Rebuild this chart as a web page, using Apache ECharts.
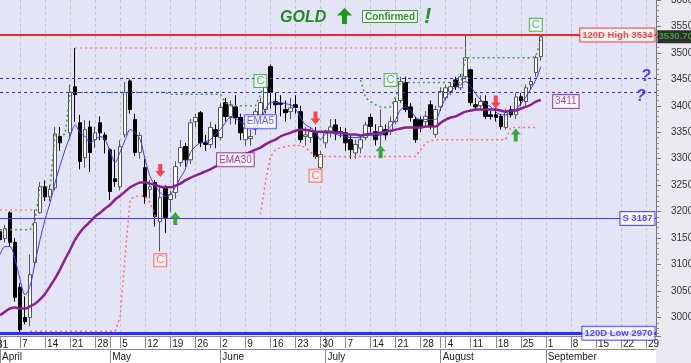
<!DOCTYPE html>
<html><head><meta charset="utf-8">
<script src="https://cdn.jsdelivr.net/npm/echarts@6/dist/echarts.min.js"></script>
<style>html,body{margin:0;padding:0;background:#fff}#c{width:691px;height:363px}</style>
</head><body><div id="c"></div>
<script>
// ---------- DATA ----------
const categories = [
 '04-01','04-02','04-03','04-04','04-07','04-08','04-09','04-10','04-11','04-14','04-15','04-16','04-17','04-18','04-21','04-22','04-23','04-24','04-25','04-28','04-29','04-30',
 '05-01','05-02','05-05','05-06','05-07','05-08','05-09','05-12','05-13','05-14','05-15','05-16','05-19','05-20','05-21','05-22','05-23','05-26','05-27','05-28','05-29','05-30',
 '06-02','06-03','06-04','06-05','06-06','06-09','06-10','06-11','06-12','06-13','06-16','06-17','06-18','06-19','06-20','06-23','06-24','06-25','06-26','06-27','06-30',
 '07-01','07-02','07-03','07-04','07-07','07-08','07-09','07-10','07-11','07-14','07-15','07-16','07-17','07-18','07-21','07-22','07-23','07-24','07-25','07-28','07-29','07-30','07-31',
 '08-01','08-04','08-05','08-06','08-07','08-08','08-11','08-12','08-13','08-14','08-15','08-18','08-19','08-20','08-21','08-22','08-25','08-26','08-27','08-28','08-29',
 '09-01','09-02','09-03','09-04','09-05','09-08','09-09','09-10','09-11','09-12','09-15','09-16','09-17','09-18','09-19','09-22','09-23','09-24','09-25','09-26','09-29','09-30',
 '10-01'
];
const monthNames = {'04':'April','05':'May','06':'June','07':'July','08':'August','09':'September','10':'October'};

const opens = [
 3162,3149,3198,3142,3057,3000,3000,3104,3198,3247,3228,3245,3342,null,3349,3436,3368,3302,3360,3336,3368,3345,
 3317,3262,3247,3345,3447,3374,3312,3283,3242,3255,3181,3244,3223,3236,3293,3323,3298,3370,3387,3330,3327,3355,
 3340,3406,3380,3398,3378,3336,3338,3361,3380,3393,3474,3408,3405,3393,3389,3402,3389,3342,3340,3351,3283,
 3330,3349,3364,3351,3349,3336,3311,3320,3340,3378,3351,3345,3355,3352,3370,3410,3444,3398,3374,3374,3370,3402,3346,
 3398,3415,3427,3449,3434,3455,3468,3402,3400,3408,3383,3383,3380,3359,3393,3383,3417,3408,3440,3463,3493
];
const closes = [
 3147,3168,3142,3038,2977,2992,3081,3179,3247,3228,3242,3347,3330,null,3425,3421,3295,3355,3312,3349,3349,3336,
 3238,3257,3323,3425,3393,3312,3344,3228,3247,3191,3227,3189,3232,3285,3321,3298,3368,3378,3330,3327,3359,3342,
 3397,3380,3402,3378,3349,3359,3342,3389,3406,3436,3425,3402,3403,3387,3396,3397,3336,3345,3352,3304,3308,
 3349,3360,3349,3349,3330,3317,3327,3336,3364,3361,3336,3361,3345,3370,3408,3446,3393,3378,3336,3361,3380,3361,3393,
 3427,3434,3436,3436,3455,3491,3406,3398,3408,3380,3380,3378,3361,3387,3383,3417,3410,3434,3446,3491,3530.7
];
const lows = [
 3140,3142,3135,3030,2970,2987,2983,3095,3196,3220,3220,3240,3315,null,3340,3370,3280,3283,3275,3320,3335,3310,
 3222,3247,3240,3340,3385,3305,3300,3215,3225,3172,3125,3160,3200,3225,3285,3285,3290,3360,3322,3315,3320,3320,
 3335,3370,3365,3365,3335,3325,3325,3345,3370,3385,3395,3385,3380,3370,3375,3385,3330,3325,3330,3300,3258,
 3320,3340,3335,3340,3315,3300,3300,3310,3335,3350,3325,3323,3335,3345,3365,3405,3388,3370,3330,3350,3360,3355,3340,
 3390,3410,3420,3430,3430,3450,3400,3390,3395,3375,3374,3370,3355,3355,3378,3375,3400,3400,3430,3455,3485
];
const highs = [
 3170,3175,3201,3150,3065,3040,3119,3204,3256,3259,3250,3360,3360,null,3440,3509,3383,3373,3372,3360,3380,3350,
 3320,3317,3335,3445,3450,3385,3350,3300,3260,3260,3247,3250,3240,3295,3335,3330,3375,3385,3390,3345,3370,3365,
 3405,3415,3410,3420,3385,3370,3355,3395,3415,3460,3478,3425,3420,3410,3415,3420,3400,3360,3360,3360,3315,
 3355,3375,3375,3360,3358,3345,3336,3345,3370,3385,3365,3393,3365,3380,3415,3455,3455,3405,3380,3380,3390,3410,3400,
 3435,3440,3445,3455,3460,3534,3470,3415,3420,3420,3390,3395,3385,3395,3400,3425,3425,3440,3455,3495,3532
];
const ema5 = [
 3119,3134,3134,3110,3072,3043,3059,3104,3147,3185,3217,3255,3287,3317,3342,3364,3349,3342,3330,3336,3342,3336,
 3313,3293,3313,3336,3355,3349,3336,3298,3266,3249,3236,3229,3232,3246,3264,3280,3312,3323,3330,3332,3336,3346,
 3355,3368,3378,3376,3370,3364,3359,3355,3370,3393,3406,3406,3406,3404,3402,3395,3378,3364,3359,3351,3336,
 3347,3349,3346,3344,3342,3340,3340,3340,3344,3344,3342,3346,3349,3361,3374,3393,3397,3391,3378,3374,3374,3374,3374,
 3395,3415,3427,3436,3440,3446,3436,3423,3411,3404,3398,3389,3383,3383,3387,3393,3404,3417,3432,3449,3474
];
const ema30 = [
 3004,3011,3017,3019,3017,3017,3021,3026,3034,3045,3059,3074,3091,3110,3128,3147,3161,3172,3181,3191,3198,3206,
 3213,3223,3230,3238,3246,3251,3255,3255,3253,3251,3247,3246,3246,3249,3253,3259,3264,3268,3272,3276,3280,3285,
 3289,3293,3296,3300,3304,3308,3313,3317,3321,3327,3332,3336,3342,3346,3349,3353,3355,3355,3353,3351,3351,
 3351,3351,3349,3349,3347,3346,3346,3344,3346,3347,3347,3349,3351,3353,3355,3357,3359,3359,3359,3359,3361,3361,3361,
 3368,3374,3378,3380,3385,3389,3391,3393,3393,3393,3393,3393,3391,3389,3391,3391,3395,3398,3402,3408,3411
];
// trailing stop lines (start index, values)
const redStopAStart = 6;
const redStopA = [2974,2974,2974,2974,2974,2974,2974,2974,2974,2974,2974,2974,2974,2974,2974,2974,2974,2974,3002,3119,3223,3229,3230,3229,3217,3191];
const redStopBStart = 52;
const redStopB = [3195,3255,3304,3317,3321,3323,3325,3325,3325,3321,3313,3304,
 3304,3304,3304,3304,3304,3304,3304,3304,3304,3304,3304,3304,3304,3304,3304,3304,3304,3304,3304,3304,
 3317,3330,3334,
 3336,3336,3336,3336,3336,3336,3336,3336,3336,3336,3336,3336,3336,3336,3336,
 3359,3359,3359,3359,3359,3359];
const greenStopAStart = 0;
const greenStopA = [3166,3166,3166,3166,3166,3166,3166,3185,3247,3247,3247,3346,3346,3346,3425,
 3425,3425,3425,3425,3425,3425,3425,3425,3425,3425,3425,3425,3425,3425,3425,3425,3425,3425,3425,
 3422,3422,3422,3422,3422,3422,3422,3422,3422,3422,3422,
 3406,3400,3400,3400,3400,3400,3400,3420,3453];
const greenStopBStart = 72;
const greenStopB = [3449,3415,3408,3402,3398,3397,3398,3417,
 3444,3444,3444,3444,3444,3444,3444,3444,3444,3444,3444,3444,3444,
 3491,3491,3491,3491,3491,3491,3491,3491,3491,3491,3491,3491,3491,3491,
 3493,3525];
// horizontal levels
const high120 = 3534, low120 = 2970, support = 3187, dashLevels = [3453, 3425];
const resistLevel = 3509, resistFrom = 15, resistTo = 93;
const earlyLevel = 3204, earlyFrom = 0, earlyTo = 7;
const lastPrice = 3530.70;
// annotations [index, price, text]
const greenC = [[52,3447,'C'],[78,3449,'C'],[107,3553,'C']];
const redC = [[32,3108,'C'],[63,3268,'C']];
const emaTags = [[52,3370,'EMA5','#3a3aff'],[47,3298,'EMA30','#8e1f8e'],[113,3408,'3411','#8e1f8e']];
const qMarks = [[129,3455],[128,3417]];
const downArrows = [[32,3278],[63,3377],[99,3407]];
const upArrows = [[35,3187],[76,3313],[103,3345]];

// ---------- BUILD ----------
const N = categories.length;
const place = (start, vals) => { const a = new Array(N).fill(null); vals.forEach((v,k)=>{a[start+k]=v;}); return a; };
const candle = opens.map((o,i)=> o==null ? '-' : [o, closes[i], lows[i], highs[i]]);
const isMonday = i => { const [m,d] = categories[i].split('-').map(Number); return new Date(2025, m-1, d).getDay() === 1; };
const isMonthStart = i => i < N-1 && (i === 0 || categories[i].slice(0,2) !== categories[i-1].slice(0,2));
const sans = '"Liberation Sans",Arial,sans-serif';

const boxLabel = (text, color, opts) => Object.assign({
  show:true, formatter:text, color:color, backgroundColor:'#fff', borderColor:color, borderWidth:1,
  padding:[2,2,1,2], fontSize:9.5, fontFamily:sans, position:'inside', lineHeight:10
}, opts||{});

const tagData = [];
greenC.forEach(([i,v,t])=>tagData.push({value:[i,v], label:boxLabel(t,'#2ea82e',{fontSize:11,lineHeight:11,padding:[1,2,0,2]})}));
redC.forEach(([i,v,t])=>tagData.push({value:[i,v], label:boxLabel(t,'#ff5050',{fontSize:11,lineHeight:11,backgroundColor:'#fff4f4',padding:[1,2,0,2]})}));
emaTags.forEach(([i,v,t,c])=>tagData.push({value:[i,v], label:boxLabel(t,c,{fontSize:10})}));
qMarks.forEach(([i,v])=>tagData.push({value:[i,v], label:{show:true, formatter:'?', position:'inside', color:'#2020e0', fontSize:16, fontWeight:'bold', fontStyle:'italic', fontFamily:sans}}));
tagData.push({value:[N-1,high120], label:boxLabel('120D High '+high120,'#ee2222',{position:'left',distance:1,fontWeight:'bold'})});
tagData.push({value:[N-1,support], label:boxLabel('S '+support,'#2a2aff',{position:'left',distance:1,fontWeight:'bold'})});
tagData.push({value:[N-1,low120], label:boxLabel('120D Low '+low120,'#2a2aff',{position:'left',distance:1,fontWeight:'bold'})});
tagData.push({value:[N-1,lastPrice], label:{show:true, formatter:lastPrice.toFixed(2), position:'right', distance:1,
  color:'#3ec03e', backgroundColor:'#000', padding:[2,1,1,1], fontSize:9.5, fontWeight:'bold', fontFamily:sans, lineHeight:10}});

const downPath = 'path://M3,0 L7,0 L7,7 L10,7 L5,13 L0,7 L3,7 Z';
const upPath = 'path://M5,0 L10,6 L7,6 L7,13 L3,13 L3,6 L0,6 Z';

const chart = echarts.init(document.getElementById('c'));
chart.setOption({
  animation:false,
  backgroundColor:'#fff',
  grid:{left:0, right:35, top:0, bottom:27, show:true, backgroundColor:'#E4E4F7', borderWidth:0, containLabel:false, outerBoundsMode:'none'},
  graphic:[
    {type:'rect', shape:{x:656,y:0,width:35,height:363}, style:{fill:'#EAEAF0'}, z:-10, silent:true},
    {type:'text', x:-3, y:340, style:{text:'31', font:'10px '+sans, fill:'#222'}, z:10},
    {type:'text', x:280, y:10, style:{text:'GOLD', font:'italic bold 16px '+sans, fill:'#1f8a1f'}, z:10},
    {type:'polygon', shape:{points:[[344.5,8],[352,15.5],[347,15.5],[347,24],[342,24],[342,15.5],[337,15.5]]}, style:{fill:'#1a9a1a'}, z:10},
    {type:'rect', shape:{x:362.5,y:10.5,width:55,height:12}, style:{fill:'#fff', stroke:'#2ea82e', lineWidth:1}, z:10},
    {type:'text', x:390, y:17, style:{text:'Confirmed', font:'bold 10px '+sans, fill:'#2a9a2a', align:'center', verticalAlign:'middle'}, z:11},
    {type:'text', x:424, y:6, style:{text:'!', font:'italic bold 22px '+sans, fill:'#1a9a1a'}, z:10}
  ],
  xAxis:[
    {type:'category', data:categories, boundaryGap:false, position:'bottom',
     axisLine:{show:true, lineStyle:{color:'#8a8a8a'}},
     axisTick:{show:true, interval:(i)=>isMonday(i)||isMonthStart(i), length:12, lineStyle:{color:'#8a8a8a'}},
     axisLabel:{show:true, interval:(i)=>isMonday(i), formatter:(v)=>String(parseInt(v.slice(3),10)), align:'left',
       padding:[0,0,0,2], margin:3, fontSize:10, color:'#222', fontFamily:sans, hideOverlap:false},
     splitLine:{show:true, interval:(i)=>isMonday(i), lineStyle:{type:[3,3], color:'#c4c4cc', width:1}}},
    {type:'category', data:categories, boundaryGap:false, position:'bottom', offset:13,
     axisLine:{show:true, lineStyle:{color:'#8a8a8a'}},
     axisTick:{show:true, interval:(i)=>isMonthStart(i), length:14, lineStyle:{color:'#8a8a8a'}},
     axisLabel:{show:true, interval:(i)=>isMonthStart(i), formatter:(v)=>monthNames[v.slice(0,2)], align:'left',
       padding:[0,0,0,2], margin:3, fontSize:10, color:'#222', fontFamily:sans, hideOverlap:false},
     splitLine:{show:false}}
  ],
  yAxis:{type:'value', position:'right', min:2965, max:3600, splitNumber:13, minInterval:50, maxInterval:50,
    axisLine:{show:true, lineStyle:{color:'#777'}},
    axisTick:{show:true, length:5, lineStyle:{color:'#777'}},
    minorTick:{show:true, splitNumber:5, length:3, lineStyle:{color:'#888'}},
    axisLabel:{margin:15, fontSize:10, color:'#333', fontFamily:sans, showMinLabel:false,
      formatter:(v)=> (v%50===0 ? String(v) : '')},
    splitLine:{show:false}},
  series:[
    {type:'candlestick', name:'GOLD', data:candle, barWidth:4,
     itemStyle:{color:'#ffffff', color0:'#000000', borderColor:'#555', borderColor0:'#000', borderWidth:1},
     markLine:{silent:true, symbol:['none','none'], label:{show:false}, animation:false,
       data:[
         {yAxis:high120, lineStyle:{color:'#f02828', width:2, type:'solid'}},
         {yAxis:dashLevels[0], lineStyle:{color:'#2e2eff', width:1, type:[3,3]}},
         {yAxis:dashLevels[1], lineStyle:{color:'#2e2eff', width:1, type:[3,3]}},
         {yAxis:support, lineStyle:{color:'#3a3aff', width:1.2, type:'solid'}},
         {yAxis:low120, lineStyle:{color:'#2e2eff', width:3, type:'solid'}},
         [{coord:[categories[resistFrom],resistLevel], lineStyle:{color:'#ff8a8a', width:1.5, type:[2,3]}},{coord:[categories[resistTo],resistLevel]}],
         [{coord:[categories[earlyFrom],earlyLevel], lineStyle:{color:'#ff8a8a', width:1.5, type:[2,3]}},{coord:[categories[earlyTo],earlyLevel]}]
       ]}},
    {type:'line', name:'redStopA', data:place(redStopAStart, redStopA), symbol:'none', lineStyle:{color:'#ff6a6a', width:1.5, type:[2,3]}, connectNulls:false},
    {type:'line', name:'redStopB', data:place(redStopBStart, redStopB), symbol:'none', lineStyle:{color:'#ff6a6a', width:1.5, type:[2,3]}, connectNulls:false},
    {type:'line', name:'greenStopA', data:place(greenStopAStart, greenStopA), symbol:'none', lineStyle:{color:'#3aa03a', width:1.5, type:[2,3]}, connectNulls:false},
    {type:'line', name:'greenStopB', data:place(greenStopBStart, greenStopB), symbol:'none', lineStyle:{color:'#3aa03a', width:1.5, type:[2,3]}, connectNulls:false},
    {type:'line', name:'EMA30', data:ema30, symbol:'none', smooth:0.3, lineStyle:{color:'#8e1f8e', width:2.5}},
    {type:'line', name:'EMA5', data:ema5, symbol:'none', smooth:0.3, lineStyle:{color:'#3a3aff', width:1}},
    {type:'scatter', name:'down', data:downArrows, symbol:downPath, symbolSize:[10,13], itemStyle:{color:'#ff1a1a'}, clip:false, z:5},
    {type:'scatter', name:'up', data:upArrows, symbol:upPath, symbolSize:[10,13], itemStyle:{color:'#129a12'}, clip:false, z:5},
    {type:'scatter', name:'tags', data:tagData, symbolSize:1, itemStyle:{color:'rgba(0,0,0,0)'}, clip:false, z:6}
  ]
});
</script></body></html>
